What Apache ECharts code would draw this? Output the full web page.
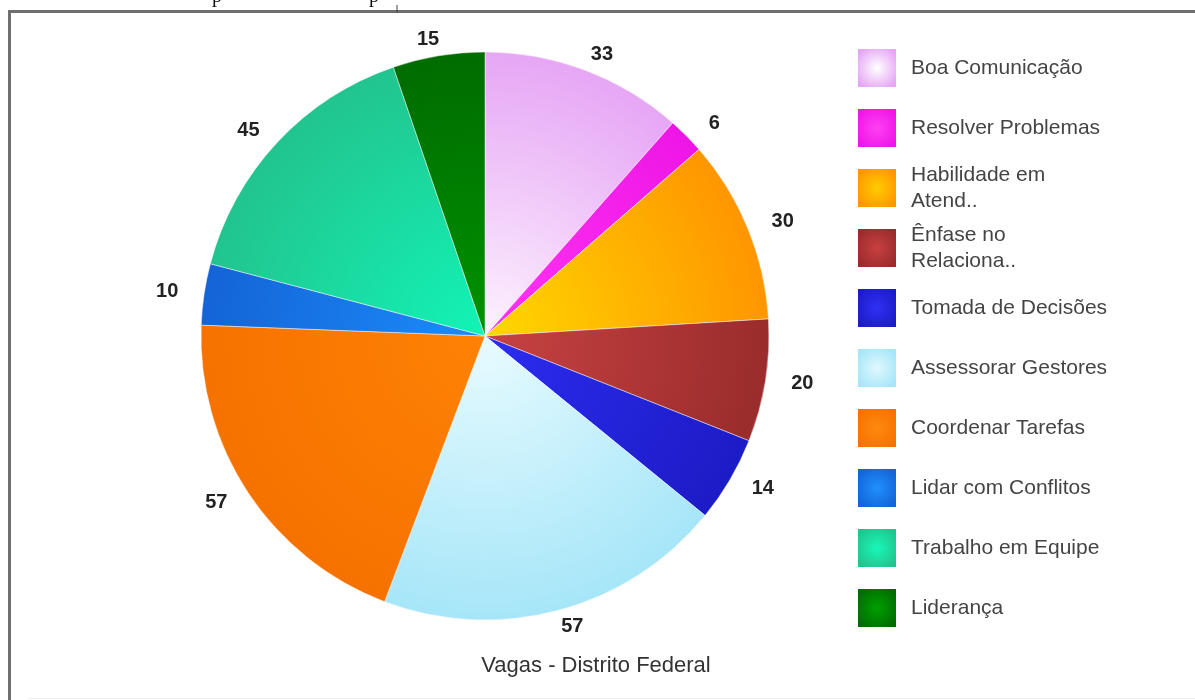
<!DOCTYPE html>
<html><head><meta charset="utf-8">
<script src="https://cdn.jsdelivr.net/npm/echarts@6/dist/echarts.min.js"></script>
<style>html,body{margin:0;padding:0;background:#fff}#c{width:1195px;height:700px}</style>
</head><body><div id="c"></div>
<script>
const categories = ['Boa Comunicação','Resolver Problemas','Habilidade em Atend..','Ênfase no Relaciona..','Tomada de Decisões','Assessorar Gestores','Coordenar Tarefas','Lidar com Conflitos','Trabalho em Equipe','Liderança'];
const values = [33, 6, 30, 20, 14, 57, 57, 10, 45, 15];
const legendLabels = ['Boa Comunicação','Resolver Problemas','Habilidade em\nAtend..','Ênfase no\nRelaciona..','Tomada de Decisões','Assessorar Gestores','Coordenar Tarefas','Lidar com Conflitos','Trabalho em Equipe','Liderança'];
const innerColors = ['#fdf2fe','#ff34f2','#ffd800','#c84242','#2c2cf0','#e8fbff','#ff8204','#1c8cfa','#12f4b6','#009200'];
const outerColors = ['#e6a6f5','#ee16e6','#ff9600','#9a2c2c','#1c1cc6','#a6e6f8','#f67200','#1464d6','#22c48e','#006c00'];
const iconInner = ['#ffffff','#ff40f4','#ffcc00','#c84040','#3030f4','#e0f8ff','#ff8a10','#2090ff','#18f8b8','#00a000'];
const chartTitle = 'Vagas - Distrito Federal';

const CX = 485, CY = 336, R = 284;
const chart = echarts.init(document.getElementById('c'), null, {renderer: 'canvas'});

const pieData = categories.map((name, i) => ({
  name: name,
  value: values[i],
  itemStyle: {
    color: {
      type: 'radial', x: CX, y: CY, r: R, global: true,
      colorStops: [{offset: 0, color: innerColors[i]}, {offset: 1, color: outerColors[i]}]
    }
  }
}));

const legends = categories.map((name, i) => {
  const multi = legendLabels[i].indexOf('\n') >= 0;
  const lh = multi ? 26 : 24;
  const padTop = multi ? 38 : 10;
  const boxH = (multi ? 2 : 1) * lh + padTop;
  const iconTop = 49 + 60 * i;
  const top = iconTop + Math.min(0, 19 - boxH / 2);
  return {
    orient: 'vertical', left: 858, top: top, padding: 0,
    itemWidth: 38, itemHeight: 38, icon: 'rect', selectedMode: false,
    data: [{
      name: name,
      itemStyle: {
        color: {
          type: 'radial', x: 0.5, y: 0.5, r: 0.6,
          colorStops: [{offset: 0, color: iconInner[i]}, {offset: 1, color: outerColors[i]}]
        },
        borderWidth: 0
      }
    }],
    formatter: n => legendLabels[categories.indexOf(n)],
    textStyle: {fontSize: 21, color: '#444', fontFamily: 'Arial', lineHeight: lh, padding: [padTop, 0, 0, 10]}
  };
});

chart.setOption({
  backgroundColor: '#ffffff',
  animation: false,
  title: {
    text: chartTitle, left: 591, top: 650, textAlign: 'center',
    textStyle: {fontSize: 22, fontWeight: 'normal', color: '#333', fontFamily: 'Arial'}
  },
  legend: legends,
  graphic: [
    {type: 'line', shape: {x1: 9, y1: 11.5, x2: 1195, y2: 11.5}, style: {stroke: '#6f6f6f', lineWidth: 3}},
    {type: 'line', shape: {x1: 9.5, y1: 10, x2: 9.5, y2: 700}, style: {stroke: '#6f6f6f', lineWidth: 3}},
    {type: 'line', shape: {x1: 28, y1: 698.5, x2: 1195, y2: 698.5}, style: {stroke: '#eeeeee', lineWidth: 1}},
    {type: 'text', left: 212, top: -13, style: {text: 'p', font: '20px "Liberation Serif"', fill: '#111'}},
    {type: 'text', left: 369, top: -13, style: {text: 'p', font: '20px "Liberation Serif"', fill: '#111'}},
    {type: 'line', shape: {x1: 397, y1: 5, x2: 397, y2: 13}, style: {stroke: '#444', lineWidth: 1}}
  ],
  series: [{
    type: 'pie',
    center: [CX, CY],
    radius: R,
    startAngle: 90,
    clockwise: true,
    avoidLabelOverlap: false,
    data: pieData,
    itemStyle: {borderColor: 'rgba(255,255,255,0.45)', borderWidth: 1},
    label: {
      show: true, position: 'outside', formatter: '{c}',
      fontSize: 20, fontWeight: 'bold', color: '#222', fontFamily: 'Arial'
    },
    labelLine: {show: false, length: 17, length2: 0},
    labelLayout: function (p) {
      const r = p.labelRect;
      const leftSide = (r.x + r.width / 2) < CX;
      const anchorX = leftSide ? r.x + r.width : r.x;
      return {x: CX + (anchorX - CX) * 1.05, align: 'center'};
    },
    emphasis: {disabled: true}
  }]
});
</script></body></html>
